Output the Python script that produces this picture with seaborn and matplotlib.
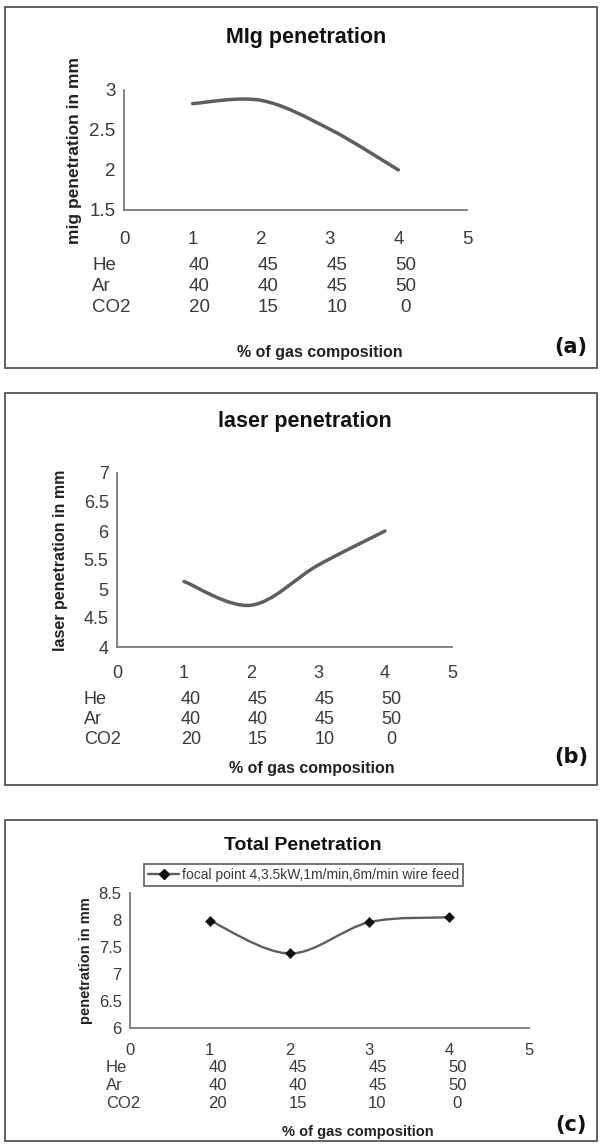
import numpy as np
import matplotlib
matplotlib.use('Agg')
import matplotlib.pyplot as plt
import seaborn as sns
from matplotlib import font_manager
from matplotlib.path import Path
from matplotlib.patches import PathPatch, Rectangle
from matplotlib.lines import Line2D
from matplotlib.transforms import blended_transform_factory

# ─── Data ───
comp_x = [1, 2, 3, 4]
he_pct = [40, 45, 45, 50]
ar_pct = [40, 40, 45, 50]
co2_pct = [20, 15, 10, 0]
gas_rows = ['He', 'Ar', 'CO2']

mig_pen = [2.83, 2.87, 2.51, 2.00]
laser_pen = [5.13, 4.72, 5.41, 6.00]
total_pen = [7.99, 7.38, 7.96, 8.05]

titles = ['MIg penetration', 'laser penetration', 'Total Penetration']
ylabels = ['mig penetration in mm', 'laser penetration in mm', 'penetration in mm']
tags = ['(a)', '(b)', '(c)']
xlabel = '% of gas composition'
legend_label = 'focal point 4,3.5kW,1m/min,6m/min wire feed'

xticks = [0, 1, 2, 3, 4, 5]
yticks_mig = [1.5, 2, 2.5, 3]
yticks_laser = [4, 4.5, 5, 5.5, 6, 6.5, 7]
yticks_total = [6, 6.5, 7, 7.5, 8, 8.5]

# ─── Setup ───
sns.set_theme(style='white')
W, H = 601, 1146
names = {f.name for f in font_manager.fontManager.ttflist}
NARROW = 'Liberation Sans Narrow' if 'Liberation Sans Narrow' in names else 'Liberation Sans'
plt.rcParams['font.family'] = ['Liberation Sans', 'DejaVu Sans']

LINE_C = '#5e5e5e'
AXIS_C = '#7a7a7a'
TEXT_C = '#3a3a3a'


def fx(px):
    return px / W


def fy(py):
    return 1 - py / H


def smooth_path(xs, ys):
    # Excel-style smoothed line: cubic Bezier through the data points
    pts = np.column_stack([xs, ys]).astype(float)
    n = len(pts)
    verts, codes = [pts[0]], [Path.MOVETO]
    for i in range(n - 1):
        p0 = pts[i - 1] if i > 0 else pts[i]
        p1, p2 = pts[i], pts[i + 1]
        p3 = pts[i + 2] if i + 2 < n else pts[i + 1]
        verts += [p1 + (p2 - p0) / 6, p2 - (p3 - p1) / 6, p2]
        codes += [Path.CURVE4] * 3
    return Path(verts, codes)


panels = [
    dict(y=mig_pen, yticks=yticks_mig, box=(5, 7, 597, 368), ax=(124, 467, 90, 210),
         title=(306, 38, 15.5), xpad=11, rows=(265, 286, 308), rowx=92, tsize=13.5,
         xl=(320, 352, 11.5), tag=(571, 347), yl=(75, 12.5), lw=2.5, marker=False),
    dict(y=laser_pen, yticks=yticks_laser, box=(5, 393, 597, 785), ax=(117, 452, 473, 647),
         title=(305, 422, 15.5), xpad=9, rows=(700, 720, 740), rowx=84, tsize=13,
         xl=(312, 769, 11.5), tag=(571, 757), yl=(61, 11.5), lw=2.5, marker=False),
    dict(y=total_pen, yticks=yticks_total, box=(5, 820, 597, 1141), ax=(130, 529, 893, 1028),
         title=(303, 845, 14), xpad=7, rows=(1068, 1086, 1103), rowx=106, tsize=12,
         xl=(358, 1132, 10.5), tag=(571, 1125), yl=(86, 10.5), lw=1.7, marker=True),
]

fig = plt.figure(figsize=(W / 100, H / 100), dpi=100)

for i, p in enumerate(panels):
    # panel frame
    x0, y0, x1, y1 = p['box']
    fig.add_artist(Rectangle((fx(x0), fy(y1)), fx(x1) - fx(x0), fy(y0) - fy(y1),
                             transform=fig.transFigure, fill=False,
                             edgecolor='#555555', linewidth=1.3))

    l, r, t, b = p['ax']
    ax = fig.add_axes([fx(l), fy(b), fx(r) - fx(l), fy(t) - fy(b)])
    ax.set_facecolor('none')
    ax.add_patch(PathPatch(smooth_path(comp_x, p['y']), fill=False,
                           edgecolor=LINE_C, linewidth=p['lw'],
                           capstyle='round', joinstyle='round'))
    if p['marker']:
        sns.scatterplot(x=comp_x, y=p['y'], ax=ax, marker='D', s=26,
                        color='#111111', edgecolor='#111111', zorder=3)

    ax.set_xlim(0, 5)
    ax.set_ylim(p['yticks'][0], p['yticks'][-1])
    ax.set_xticks(xticks)
    ax.set_xticklabels([f'{v:g}' for v in xticks], fontfamily=NARROW,
                       fontsize=p['tsize'], color=TEXT_C)
    ax.set_yticks(p['yticks'])
    ax.set_yticklabels([f'{v:g}' for v in p['yticks']], fontfamily=NARROW,
                       fontsize=p['tsize'], color=TEXT_C)
    ax.tick_params(axis='x', direction='out', length=4, width=1, color=AXIS_C, pad=p['xpad'])
    ax.tick_params(axis='y', direction='out', length=4, width=1, color=AXIS_C, pad=2)
    for s in ['top', 'right']:
        ax.spines[s].set_visible(False)
    for s in ['left', 'bottom']:
        ax.spines[s].set_color(AXIS_C)
        ax.spines[s].set_linewidth(1.3)

    # gas composition table under the x axis
    tr = blended_transform_factory(ax.transData, fig.transFigure)
    for row_name, row_vals, ry in zip(gas_rows, [he_pct, ar_pct, co2_pct], p['rows']):
        fig.text(fx(p['rowx']), fy(ry), row_name, ha='left', va='center',
                 fontfamily=NARROW, fontsize=p['tsize'], color=TEXT_C)
        for xv, val in zip(comp_x, row_vals):
            ax.text(xv + 0.1, fy(ry), str(val), transform=tr, ha='center', va='center',
                    fontfamily=NARROW, fontsize=p['tsize'], color=TEXT_C)

    tx, ty, ts = p['title']
    fig.text(fx(tx), fy(ty), titles[i], ha='center', va='center',
             fontsize=ts, fontweight='bold', color='#111111')
    ylx, yls = p['yl']
    fig.text(fx(ylx), fy((t + b) / 2), ylabels[i], rotation=90, ha='center', va='center',
             fontsize=yls, fontweight='bold', color='#222222')
    xlx, xly, xls = p['xl']
    fig.text(fx(xlx), fy(xly), xlabel, ha='center', va='center',
             fontsize=xls, fontweight='bold', color='#222222')
    gx, gy = p['tag']
    fig.text(fx(gx), fy(gy), tags[i], ha='center', va='center',
             fontsize=15, fontweight='bold', fontfamily='DejaVu Sans', color='#111111')

    if p['marker']:
        handle = Line2D([], [], color=LINE_C, linewidth=p['lw'], marker='D',
                        markersize=5, markerfacecolor='#111111', markeredgecolor='#111111')
        leg = fig.legend([handle], [legend_label], loc='center',
                         bbox_to_anchor=(fx(303.5), fy(875)),
                         prop={'family': NARROW, 'size': 10}, frameon=True,
                         fancybox=False, edgecolor='#333333', handlelength=2.2,
                         handletextpad=0.2, borderpad=0.3, labelcolor=TEXT_C)
        leg.get_frame().set_linewidth(1.2)

plt.savefig('out.png', dpi=100)
plt.close()
